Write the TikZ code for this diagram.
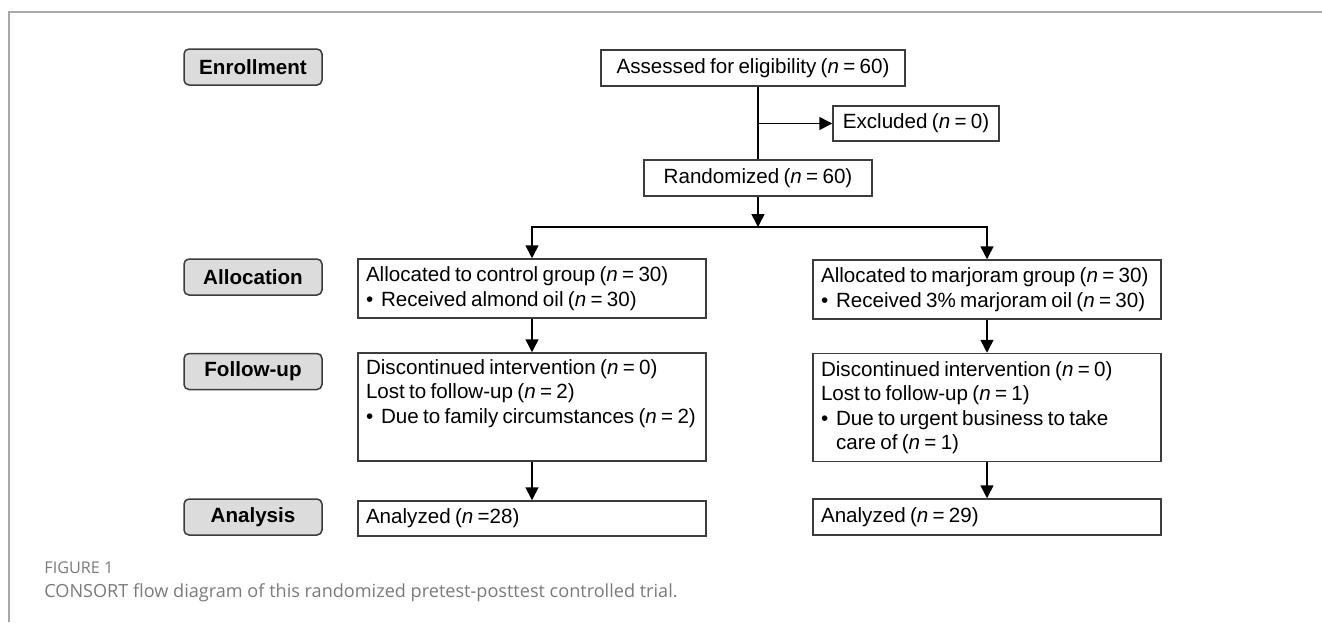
\documentclass[tikz,border=0pt]{standalone}
\usepackage{fontspec}
\setmainfont{Liberation Sans}[WordSpace=0.75]
\newfontfamily\capfont{Open Sans}
\usepackage{tikz}
\usetikzlibrary{arrows.meta}
\definecolor{boxLine}{HTML}{3C3C3C}
\definecolor{stageFill}{HTML}{DCDCDC}
\definecolor{frameGray}{HTML}{A8A8A8}
\definecolor{capGray}{HTML}{7A7A7A}
\newcommand\boxfont{\fontsize{10.3}{12.2}\selectfont}
\newcommand\nn{\textit{n}}
\newcommand\bul{\makebox[7.5pt][l]{\textbullet}}

\begin{document}
\begin{tikzpicture}[x=0.5pt, y=-0.5pt,
    stage/.style={draw=boxLine, fill=stageFill, line width=0.75pt, rounded corners=2.5pt,
        minimum width=69pt, minimum height=18pt, inner sep=0pt, font=\boxfont\bfseries},
    flowbox/.style={draw=boxLine, line width=0.75pt, minimum height=18pt, inner sep=0pt, font=\boxfont},
    groupbox/.style={draw=boxLine, line width=0.75pt, text width=166pt, inner xsep=4pt,
        inner ysep=0pt, align=flush left, font=\boxfont,
        execute at begin node={\spaceskip=0pt\xspaceskip=0pt\relax}},
    arr/.style={line width=0.75pt, -{Triangle[width=6.5pt,length=6.5pt]}},
    caption/.style={anchor=base west, inner sep=0pt, text=capGray}]
    \useasboundingbox (0,0) rectangle (1322,622);
    % page frame
    \draw[frameGray, line width=0.75pt] (1322,12) -- (9,12) -- (9,622);
    % stage labels
    \node[stage] (enroll)        at (253,67)    {Enrollment};
    \node[stage] (allocStage)    at (253,277)   {Allocation};
    \node[stage] (followStage)   at (253,371.5) {Follow-up};
    \node[stage] (analysisStage) at (253,517)   {Analysis};
    % enrollment
    \node[flowbox, minimum width=152pt] (assessed) at (753,68) {Assessed for eligibility (\nn{} = 60)};
    \node[flowbox, minimum width=83pt, minimum height=17.5pt] (excluded) at (916,123.5) {Excluded (\nn{} = 0)};
    \node[flowbox, minimum width=114pt] (randomized) at (758,178) {Randomized (\nn{} = 60)};
    \coordinate (split) at (758,227);
    % control arm
    \node[groupbox, minimum height=29.5pt] (ctrlAlloc) at (532,288.5)
        {Allocated to control group (\nn{} = 30)\\\bul Received almond oil (\nn{} = 30)};
    \node[groupbox, minimum height=54pt] (ctrlFollow) at (532,407)
        {Discontinued intervention (\nn{} = 0)\\Lost to follow-up (\nn{} = 2)\\\bul Due to family circumstances (\nn{} = 2)\\\strut};
    \node[groupbox, minimum height=17.5pt] (ctrlAnalysis) at (532,518.5) {Analyzed (\nn{} =28)};
    % marjoram arm
    \node[groupbox, minimum height=29.5pt] (marjAlloc) at (987,289.5)
        {Allocated to marjoram group (\nn{} = 30)\\\bul Received 3\% marjoram oil (\nn{} = 30)};
    \node[groupbox, minimum height=54pt] (marjFollow) at (987,407.5)
        {Discontinued intervention (\nn{} = 0)\\Lost to follow-up (\nn{} = 1)\\\bul Due to urgent business to take\\\hspace*{7.5pt}care of (\nn{} = 1)};
    \node[groupbox, minimum height=18pt] (marjAnalysis) at (987,517) {Analyzed (\nn{} = 29)};
    % connectors
    \draw[line width=0.75pt] (assessed.south -| randomized.north) -- (randomized.north);
    \draw[arr] (randomized.north |- excluded.west) -- (excluded.west);
    \draw[arr] (randomized) -- (split);
    \draw[arr] (split) -| (ctrlAlloc);
    \draw[arr] (split) -| (marjAlloc);
    \draw[arr] (ctrlAlloc) -- (ctrlFollow);
    \draw[arr] (ctrlFollow) -- (ctrlAnalysis);
    \draw[arr] (marjAlloc) -- (marjFollow);
    \draw[arr] (marjFollow) -- (marjAnalysis);
    % caption
    \node[caption, font=\capfont\fontsize{8.1}{9}\selectfont] (figLabel) at (44,573) {FIGURE 1};
    \node[caption, font=\capfont\fontsize{9.05}{10}\selectfont] (figCaption) at (44,597)
        {CONSORT flow diagram of this randomized pretest-posttest controlled trial.};
\end{tikzpicture}
\end{document}
